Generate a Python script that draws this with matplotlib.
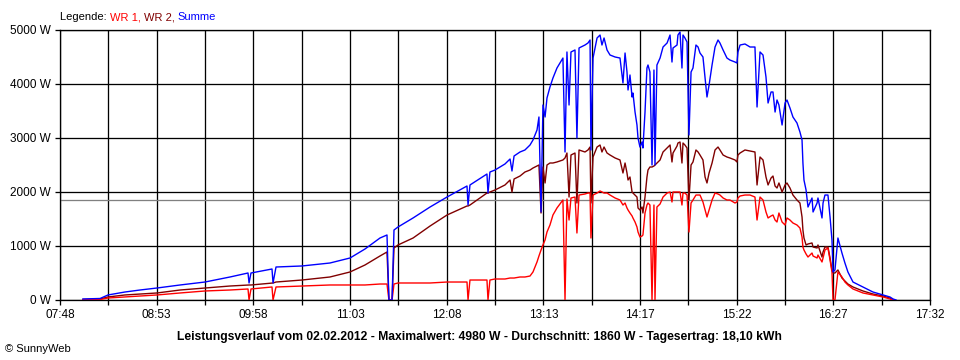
import numpy as np
import matplotlib
matplotlib.use("Agg")
import matplotlib.pyplot as plt
from matplotlib.ticker import FixedLocator

# ---- data (time in minutes after midnight, power in W) ----
time_min = [483.4, 494.9, 500.2, 511.6, 521.7, 533.1, 548.6, 565.3, 582.1, 594.2,
            594.9, 596.2, 610.3, 611.0, 613.0, 630.4, 649.2, 662.7, 672.7, 682.8,
            687.5, 688.8, 690.9, 692.2, 694.9, 705.0, 716.4, 727.8, 741.2, 741.9,
            743.2, 754.6, 755.3, 756.6, 760.0, 766.7, 770.1, 771.4, 772.8, 776.8,
            780.1, 783.5, 785.5, 788.2, 789.5, 790.9, 792.2, 793.6, 794.9, 796.9,
            798.9, 801.6, 803.6, 805.6, 807.0, 808.3, 809.7, 811.0, 813.7, 815.0,
            816.4, 820.4, 822.4, 823.8, 824.4, 825.8, 828.5, 830.5, 831.8, 833.2,
            835.2, 837.2, 840.6, 843.9, 845.9, 847.3, 848.6, 849.3, 850.6, 852.0,
            852.6, 854.0, 855.3, 856.0, 857.3, 858.7, 859.3, 860.7, 862.0, 862.7,
            864.0, 865.4, 866.7, 867.4, 868.7, 870.8, 872.8, 875.5, 877.5, 878.8,
            879.5, 882.2, 882.8, 884.2, 885.5, 886.2, 887.5, 888.9, 890.2, 891.6,
            892.9, 894.9, 896.3, 897.6, 899.6, 901.0, 902.3, 903.7, 905.7, 907.7,
            909.7, 911.0, 913.1, 915.7, 917.7, 921.1, 922.4, 923.1, 924.5, 927.8,
            931.2, 934.5, 935.9, 937.9, 939.9, 941.9, 943.3, 945.3, 946.6, 948.0,
            949.3, 950.6, 952.7, 954.7, 956.0, 958.0, 960.0, 962.7, 964.7, 966.1,
            966.7, 967.4, 968.8, 970.1, 972.8, 973.5, 976.2, 976.8, 979.5, 980.2,
            981.5, 983.5, 984.9, 986.2, 986.9, 988.2, 990.2, 992.9, 994.9, 996.9,
            1000.3, 1007.0, 1013.7, 1020.4, 1025.1, 1027.2, 1029.2]

wr1_w = [6, 9, 37, 56, 74, 93, 130, 167, 185, 204,
         0, 204, 241, 0, 241, 259, 278, 278, 278, 296,
         296, 0, 0, 296, 315, 315, 315, 333, 333, 0,
         370, 370, 0, 370, 389, 389, 407, 407, 407, 426,
         426, 444, 519, 704, 815, 926, 1019, 1111, 1259, 1389,
         1574, 1704, 1778, 1852, 0, 1870, 1481, 1889, 1907, 1241,
         1944, 1963, 1981, 1981, 1148, 1944, 1981, 2019, 2000, 1981,
         1981, 1944, 1889, 1852, 1759, 1796, 1704, 1667, 1611, 1556,
         1519, 1444, 1352, 1259, 1167, 1185, 1204, 1611, 1759, 1796,
         1759, 0, 1759, 0, 1722, 1778, 1907, 1981, 2000, 1815,
         2000, 2000, 2000, 2000, 1759, 1981, 1981, 1944, 1259, 1796,
         1852, 1944, 1944, 1944, 1815, 1667, 1537, 1667, 1852, 1981,
         1963, 1944, 1889, 1852, 1852, 1796, 1815, 1889, 1926, 1944,
         1944, 1907, 1481, 1907, 1852, 1630, 1519, 1556, 1574, 1481,
         1444, 1611, 1444, 1389, 1519, 1481, 1426, 1389, 1333, 1167,
         981, 926, 852, 796, 870, 815, 778, 833, 704, 778,
         926, 963, 741, 519, 0, 0, 519, 426, 333, 278,
         204, 130, 93, 56, 19, 0, np.nan]

wr2_w = [9, 19, 56, 93, 111, 130, 185, 222, 259, 278,
         278, 278, 315, 315, 333, 370, 426, 519, 648, 815,
         889, 0, 0, 963, 1019, 1148, 1370, 1574, 1741, 1741,
         1759, 1981, 1981, 2000, 2037, 2130, 2222, 2000, 2241, 2296,
         2370, 2407, 2444, 2481, 2500, 1611, 2463, 2167, 2500, 2537,
         2537, 2556, 2574, 2593, 2630, 2722, 1907, 2685, 2722, 1796,
         2778, 2741, 2778, 2833, 1796, 2648, 2833, 2870, 2741, 2833,
         2722, 2685, 2630, 2593, 2352, 2537, 2352, 2222, 2278, 2000,
         1981, 1944, 1907, 1704, 1667, 1722, 1611, 1907, 2278, 2407,
         2463, 2463, 2481, 2500, 2537, 2593, 2741, 2815, 2870, 2556,
         2722, 2852, 2907, 2926, 2537, 2907, 2870, 2815, 1852, 2500,
         2556, 2778, 2741, 2685, 2593, 2278, 2167, 2352, 2537, 2778,
         2833, 2778, 2685, 2648, 2630, 2593, 2556, 2685, 2722, 2778,
         2759, 2741, 2130, 2648, 2593, 2278, 2130, 2259, 2296, 2111,
         2074, 2167, 2000, 2130, 2167, 2074, 1944, 1852, 1796, 1537,
         1296, 1148, 1019, 1037, 1056, 981, 963, 1019, 796, 889,
         981, 981, 778, 556, 500, 500, 556, 407, 352, 296,
         241, 167, 111, 74, 37, 0, np.nan]

summe_w = [19, 28, 93, 148, 185, 222, 278, 333, 426, 500,
           315, 500, 574, 315, 611, 630, 685, 778, 944, 1148,
           1204, 0, 0, 1296, 1352, 1519, 1722, 1907, 2111, 1759,
           2130, 2333, 1981, 2370, 2407, 2519, 2611, 2389, 2667, 2741,
           2778, 2870, 2963, 3148, 3389, 1630, 3611, 3389, 3741, 3944,
           4111, 4296, 4389, 4481, 2741, 4593, 3611, 4593, 4630, 3000,
           4667, 4722, 4759, 4815, 2778, 4481, 4852, 4907, 4722, 4852,
           4630, 4537, 4500, 4481, 4019, 4574, 4222, 3889, 4167, 3759,
           3833, 3481, 3241, 3000, 2833, 2926, 2815, 3481, 4296, 4352,
           4222, 2500, 4259, 2500, 4352, 4481, 4685, 4759, 4907, 4407,
           4667, 4722, 4907, 4963, 4296, 4907, 4852, 4778, 3056, 4222,
           4296, 4722, 4685, 4574, 4500, 4111, 3759, 3981, 4352, 4685,
           4815, 4759, 4630, 4481, 4444, 4407, 4389, 4593, 4722, 4741,
           4685, 4685, 3574, 4593, 4537, 4130, 3648, 3852, 3852, 3481,
           3704, 3611, 3241, 3648, 3704, 3556, 3389, 3278, 3111, 2963,
           2537, 2222, 2037, 1722, 1889, 1630, 1796, 1889, 1519, 1796,
           1944, 1944, 1537, 1111, 519, 556, 1148, 870, 685, 519,
           333, 241, 148, 93, 56, 19, 0]

average_w = 1860
x_tick_labels = ["07:48", "08:53", "09:58", "11:03", "12:08",
                 "13:13", "14:17", "15:22", "16:27", "17:32"]
y_tick_values = [0, 1000, 2000, 3000, 4000, 5000]
y_tick_labels = ["0 W", "1000 W", "2000 W", "3000 W", "4000 W", "5000 W"]
title_text = ("Leistungsverlauf vom 02.02.2012 - Maximalwert: 4980 W - "
              "Durchschnitt: 1860 W - Tagesertrag: 18,10 kWh")

# ---- figure ----
W, H = 960, 360
fig = plt.figure(figsize=(W / 100, H / 100), dpi=100)
plt.rcParams['font.family'] = ['Liberation Sans', 'DejaVu Sans']
ax = fig.add_axes([60 / W, 1 - 300 / H, 870 / W, 270 / H])

t0, t1 = 468, 1052
ax.set_xlim(t0, t1)
ax.set_ylim(0, 5000)

px = 0.72  # one pixel in points
step = (t1 - t0) / 9
major = [t0 + i * step for i in range(10)]
minor = [t0 + (i + 0.5) * step for i in range(9)]
ax.xaxis.set_major_locator(FixedLocator(major))
ax.xaxis.set_minor_locator(FixedLocator(minor))
ax.set_xticklabels(x_tick_labels)
ax.set_yticks(y_tick_values)
ax.set_yticklabels(y_tick_labels)

ax.grid(True, which='both', axis='x', color='black', linewidth=px * 1.3)
ax.grid(True, which='major', axis='y', color='black', linewidth=px * 1.3)
ax.set_axisbelow(True)
for s in ax.spines.values():
    s.set_color('black')
    s.set_linewidth(px * 1.3)

ax.tick_params(axis='both', which='both', length=5 * px, width=px * 1.3,
               color='black', labelsize=8.5, labelcolor='black')
ax.tick_params(axis='x', which='both', pad=3)
ax.tick_params(axis='y', pad=3)

ax.axhline(average_w, color='#808080', linewidth=px * 1.3, zorder=2)

lw = 1.0
ax.plot(time_min, wr2_w, color='#800000', linewidth=lw, zorder=3)
ax.plot(time_min, wr1_w, color='#ff0000', linewidth=lw, zorder=4)
ax.plot(time_min, summe_w, color='#0000ff', linewidth=lw, zorder=5)

# ---- legend text (coloured pieces) ----
fig.canvas.draw()
renderer = fig.canvas.get_renderer()
pieces = [("Legende: ", 'black'), ("WR 1, ", '#ff0000'),
          ("WR 2, ", '#800000'), ("Summe", '#0000ff')]
x_px = 60
for txt, col in pieces:
    t = fig.text(x_px / W, 1 - 17 / H, txt, color=col, fontsize=8,
                 ha='left', va='center')
    bb = t.get_window_extent(renderer=renderer)
    x_px += bb.width

fig.text(479 / W, 1 - 337 / H, title_text, fontsize=8.7, fontweight='bold',
         ha='center', va='center', color='black')
fig.text(5 / W, 1 - 349 / H, "\u00a9 SunnyWeb", fontsize=8,
         ha='left', va='center', color='black')

fig.savefig("out.png", dpi=100, facecolor='white')
